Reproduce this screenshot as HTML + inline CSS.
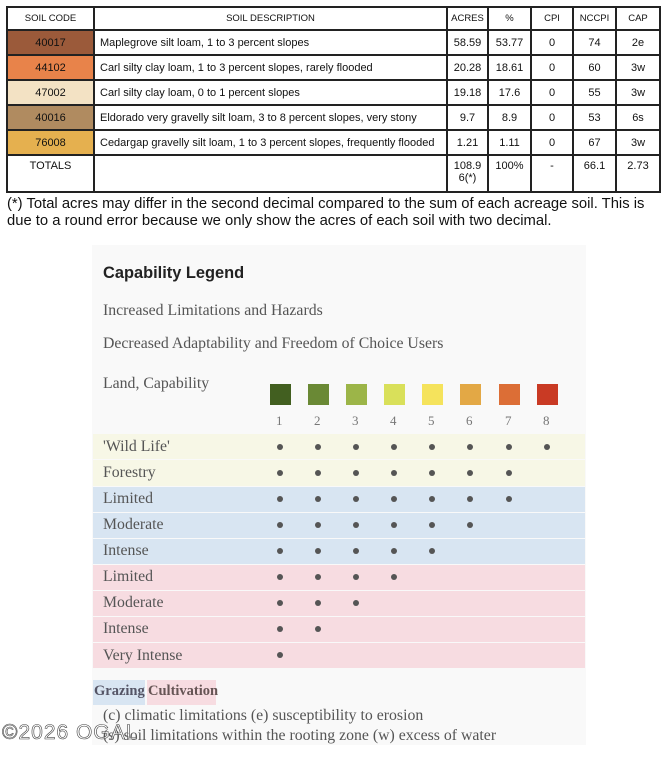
<!DOCTYPE html>
<html><head><meta charset="utf-8"><style>
body{margin:0;width:667px;height:768px;background:#fff;position:relative;overflow:hidden;font-family:"Liberation Sans",sans-serif;}
table{position:absolute;left:6px;top:6px;border-collapse:collapse;font-size:11px;color:#111;}
td{border:2px solid #222;text-align:center;padding:0;}
td.d{text-align:left;padding-left:5px;}
.a{position:absolute;}
.ser{font-family:"Liberation Serif",serif;color:#555;font-size:15.8px;}
.dot{position:absolute;width:6px;height:6px;border-radius:50%;background:#555;}
</style></head><body>
<table>
<colgroup><col style="width:87px"><col style="width:353px"><col style="width:41px"><col style="width:43px"><col style="width:42px"><col style="width:43px"><col style="width:44px"></colgroup>
<tr style="height:23px;font-size:9.5px"><td>SOIL CODE</td><td>SOIL DESCRIPTION</td><td>ACRES</td><td>%</td><td>CPI</td><td>NCCPI</td><td>CAP</td></tr>
<tr style="height:25px"><td style="background:#9b5a3a">40017</td><td class="d">Maplegrove silt loam, 1 to 3 percent slopes</td><td>58.59</td><td>53.77</td><td>0</td><td>74</td><td>2e</td></tr>
<tr style="height:25px"><td style="background:#e8834a">44102</td><td class="d">Carl silty clay loam, 1 to 3 percent slopes, rarely flooded</td><td>20.28</td><td>18.61</td><td>0</td><td>60</td><td>3w</td></tr>
<tr style="height:25px"><td style="background:#f3e2c4">47002</td><td class="d">Carl silty clay loam, 0 to 1 percent slopes</td><td>19.18</td><td>17.6</td><td>0</td><td>55</td><td>3w</td></tr>
<tr style="height:25px"><td style="background:#b08b60">40016</td><td class="d">Eldorado very gravelly silt loam, 3 to 8 percent slopes, very stony</td><td>9.7</td><td>8.9</td><td>0</td><td>53</td><td>6s</td></tr>
<tr style="height:25px"><td style="background:#e5b04f">76008</td><td class="d">Cedargap gravelly silt loam, 1 to 3 percent slopes, frequently flooded</td><td>1.21</td><td>1.11</td><td>0</td><td>67</td><td>3w</td></tr>
<tr style="height:37px;vertical-align:top"><td style="padding-top:4px">TOTALS</td><td></td><td style="padding-top:4px">108.9<br>6(*)</td><td style="padding-top:4px">100%</td><td style="padding-top:4px">-</td><td style="padding-top:4px">66.1</td><td style="padding-top:4px">2.73</td></tr>
</table>
<div class="a" style="left:7px;top:196px;font-size:14.8px;line-height:17px;color:#111;">(*) Total acres may differ in the second decimal compared to the sum of each acreage soil. This is<br>due to a round error because we only show the acres of each soil with two decimal.</div>

<div class="a" style="left:92px;top:245px;width:494px;height:500px;background:#f9f9f9;"></div>
<div class="a" style="left:103px;top:264px;font-size:16.4px;font-weight:bold;color:#222;">Capability Legend</div>
<div class="a ser" style="left:103px;top:302px;">Increased Limitations and Hazards</div>
<div class="a ser" style="left:103px;top:335px;">Decreased Adaptability and Freedom of Choice Users</div>
<div class="a ser" style="left:103px;top:375px;">Land, Capability</div>

<div class="a" style="left:93px;top:434px;width:492px;height:25px;background:#f7f7e6"></div>
<div class="a" style="left:93px;top:460px;width:492px;height:26px;background:#f7f7e6"></div>
<div class="a" style="left:93px;top:487px;width:492px;height:25px;background:#d8e5f2"></div>
<div class="a" style="left:93px;top:513px;width:492px;height:25px;background:#d8e5f2"></div>
<div class="a" style="left:93px;top:539px;width:492px;height:25px;background:#d8e5f2"></div>
<div class="a" style="left:93px;top:565px;width:492px;height:25px;background:#f7dce1"></div>
<div class="a" style="left:93px;top:591px;width:492px;height:25px;background:#f7dce1"></div>
<div class="a" style="left:93px;top:617px;width:492px;height:25px;background:#f7dce1"></div>
<div class="a" style="left:93px;top:643px;width:492px;height:25px;background:#f7dce1"></div>

<div class="a ser" style="left:103px;top:438px;">'Wild Life'</div>
<div class="a ser" style="left:103px;top:464px;">Forestry</div>
<div class="a ser" style="left:103px;top:490px;">Limited</div>
<div class="a ser" style="left:103px;top:516px;">Moderate</div>
<div class="a ser" style="left:103px;top:542px;">Intense</div>
<div class="a ser" style="left:103px;top:568px;">Limited</div>
<div class="a ser" style="left:103px;top:594px;">Moderate</div>
<div class="a ser" style="left:103px;top:620px;">Intense</div>
<div class="a ser" style="left:103px;top:647px;">Very Intense</div>

<div id="g"></div>
<div class="a" style="left:93px;top:680px;width:52px;height:25px;background:#d8e5f2"></div>
<div class="a" style="left:147px;top:680px;width:69px;height:25px;background:#f7dce1"></div>
<div class="a" style="left:94px;top:683px;font-family:'Liberation Serif',serif;font-weight:bold;font-size:14.5px;color:#556">Grazing</div>
<div class="a" style="left:148px;top:683px;font-family:'Liberation Serif',serif;font-weight:bold;font-size:14.5px;color:#655">Cultivation</div>
<div class="a ser" style="left:103px;top:707px;">(c) climatic limitations (e) susceptibility to erosion</div>
<div class="a ser" style="left:103px;top:727px;">(s) soil limitations within the rooting zone (w) excess of water</div>
<div class="a" style="left:2px;top:721px;font-size:21px;color:rgba(255,255,255,0.6);-webkit-text-stroke:0.6px #444;letter-spacing:1px;">©2026 OGAL</div>
<script>
var xs=[280,318,356,394,432,470,509,547],cols=["#425f20","#6a8935","#9cb548","#d9e05a","#f5e35c","#e3a845","#dc6e36","#c93a24"];
var ys=[447,473,499,525,551,577,603,629,655],n=[8,7,7,6,5,4,3,2,1],h="";
for(var i=0;i<8;i++){h+='<div class="a" style="left:'+(xs[i]-10)+'px;top:384px;width:21px;height:21px;background:'+cols[i]+'"></div>';
h+='<div class="a ser" style="left:'+(xs[i]-4)+'px;top:413px;font-size:13px;color:#777">'+(i+1)+'</div>';}
for(var r=0;r<9;r++)for(var c=0;c<n[r];c++)h+='<div class="dot" style="left:'+(xs[c]-3)+'px;top:'+(ys[r]-3)+'px"></div>';
document.getElementById("g").innerHTML=h;
</script>
</body></html>
